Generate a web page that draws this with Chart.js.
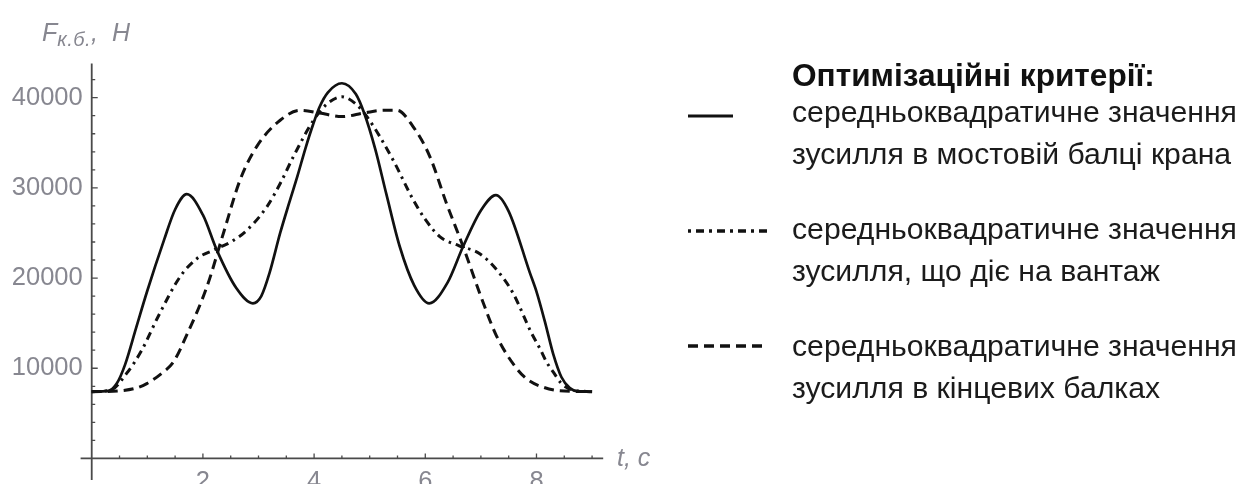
<!DOCTYPE html>
<html>
<head>
<meta charset="utf-8">
<script src="https://cdn.jsdelivr.net/npm/chart.js@4.4.1/dist/chart.umd.min.js"></script>
<style>
  html, body { margin: 0; padding: 0; background: #fff; overflow: hidden; }
  #wrap { position: relative; width: 1255px; height: 484px; }
  #plot { position: absolute; left: 0; top: 0; }
  .lg { position: absolute; left: 792px; font-family: "Liberation Sans", Arial, sans-serif;
        font-size: 30.2px; line-height: 1; color: #1b1b1b; white-space: nowrap; }
  .lg.head { font-weight: bold; font-size: 31.6px; color: #111; }
  .ax { position: absolute; font-family: "Liberation Sans", Arial, sans-serif; font-style: italic;
        font-size: 25px; line-height: 1; color: #878790; white-space: nowrap; }
  .ax sub { font-size: 20px; vertical-align: -5px; letter-spacing: 0.5px; }
  svg.sample { position: absolute; left: 686px; overflow: visible; }
</style>
</head>
<body>
<div id="wrap">
  <canvas id="plot" width="1255" height="484"></canvas>

  <div class="ax" style="left:42px; top:20px;">F<sub>к.б.</sub>, &nbsp;H</div>
  <div class="ax" style="left:617px; top:445px;">t, c</div>

  <div class="lg head" style="top:60px;">Оптимізаційні критерії:</div>

  <svg class="sample" style="top:113px;" width="50" height="6"><line x1="2" y1="3" x2="47" y2="3" stroke="#111" stroke-width="3"/></svg>
  <div class="lg" style="top:97px;">середньоквадратичне значення</div>
  <div class="lg" style="top:139px;">зусилля в мостовій балці крана</div>

  <svg class="sample" style="top:228px;" width="84" height="6"><line x1="2" y1="3" x2="82" y2="3" stroke="#111" stroke-width="3.5" stroke-dasharray="3 5 8 5"/></svg>
  <div class="lg" style="top:214px;">середньоквадратичне значення</div>
  <div class="lg" style="top:256px;">зусилля, що діє на вантаж</div>

  <svg class="sample" style="top:343px;" width="84" height="6"><line x1="2" y1="3" x2="82" y2="3" stroke="#111" stroke-width="3.5" stroke-dasharray="10 6"/></svg>
  <div class="lg" style="top:331px;">середньоквадратичне значення</div>
  <div class="lg" style="top:373px;">зусилля в кінцевих балках</div>
</div>

<script>
// Force in the bridge girder (solid line), time in seconds
const beamT = [0, 0.3, 0.45, 0.6, 0.8, 0.99, 1.3, 1.5, 1.71, 2.0, 2.25, 2.6, 2.9, 3.05, 3.2, 3.39, 3.55, 3.7, 3.85, 3.98, 4.1, 4.25, 4.5,
               4.75, 4.9, 5.1, 5.3, 5.54, 5.8, 6.07, 6.4, 6.68, 7.0, 7.27, 7.5, 7.88, 8.0, 8.15, 8.3, 8.45, 8.6, 8.75, 9.0];
const beamF = [7400, 7500, 8300, 10400, 14500, 18400, 24200, 27600, 29300, 27000, 23100, 18900, 17200, 18000, 20600, 25000, 28300, 31300, 34500, 37000, 39000, 40600, 41600,
               40400, 38300, 34300, 29300, 23500, 19200, 17200, 19500, 23500, 27500, 29200, 27400, 20600, 18500, 15200, 11600, 9000, 7800, 7450, 7400];

// Force acting on the load (dash-dot line)
const loadT = [0, 0.35, 0.63, 0.9, 1.2, 1.59, 1.9, 2.19, 2.5, 2.79, 3.15, 3.4, 3.63, 3.99, 4.25, 4.5,
               4.75, 4.95, 5.42, 5.78, 6.0, 6.26, 6.6, 6.98, 7.3, 7.58, 7.91, 8.06, 8.18, 8.3, 8.45, 8.65, 9.0];
const loadF = [7400, 7600, 9450, 12000, 15800, 20150, 22200, 23100, 24000, 25300, 27900, 30600, 33500, 37500, 39400, 40100,
               39300, 37900, 33100, 28700, 26500, 24600, 23600, 22700, 20800, 18300, 13900, 12200, 10700, 9600, 8300, 7600, 7400];

// Force in the end carriages (dashed line)
const endT = [0, 0.5, 0.8, 0.99, 1.26, 1.47, 1.71, 2.07, 2.37, 2.67, 2.97, 3.39, 3.75, 4.1, 4.5,
              4.9, 5.25, 5.49, 5.78, 6.08, 6.38, 6.68, 6.98, 7.28, 7.64, 7.85, 8.12, 8.42, 9.0];
const endF = [7400, 7500, 7800, 8300, 9450, 10700, 13700, 19000, 25000, 30900, 34600, 37500, 38600, 38300, 37900,
              38300, 38600, 38600, 36800, 33500, 28300, 23500, 18300, 13600, 10000, 8700, 7900, 7500, 7400];

const xTickLabels = [2, 4, 6, 8];
const yTickLabels = [10000, 20000, 30000, 40000];

const ink = '#111111';
const axisInk = '#4a4a4a';
const tickText = '#878790';

const pts = (ts, fs) => ts.map((t, i) => ({ x: t, y: fs[i] }));

// Axes cross at (0, 0) with inward ticks, so they are drawn by hand
// from the chart's own scales instead of the stock scale renderer.
const crossAxes = {
  id: 'crossAxes',
  beforeDatasetsDraw(chart) {
    const { ctx, scales: { x, y } } = chart;
    const x0 = x.getPixelForValue(0);
    const y0 = y.getPixelForValue(0);
    ctx.save();
    ctx.strokeStyle = axisInk;
    ctx.lineWidth = 1.8;
    ctx.beginPath();
    ctx.moveTo(x.getPixelForValue(x.min), y0);
    ctx.lineTo(x.getPixelForValue(x.max), y0);
    ctx.moveTo(x0, y.getPixelForValue(y.max));
    ctx.lineTo(x0, y.getPixelForValue(y.min));
    ctx.stroke();

    ctx.lineWidth = 1.3;
    ctx.beginPath();
    for (let k = 1; k <= 18; k++) {
      const px = x.getPixelForValue(k * 0.5);
      const len = k % 4 === 0 ? 5 : 3;
      ctx.moveTo(px, y0);
      ctx.lineTo(px, y0 - len);
    }
    for (let k = 1; k <= 21; k++) {
      const py = y.getPixelForValue(k * 2000);
      const len = k % 5 === 0 ? 6 : 3.5;
      ctx.moveTo(x0, py);
      ctx.lineTo(x0 + len, py);
    }
    ctx.stroke();

    ctx.fillStyle = tickText;
    ctx.font = '25.5px "Liberation Sans", Arial, sans-serif';
    ctx.textAlign = 'right';
    ctx.textBaseline = 'middle';
    yTickLabels.forEach((v) => ctx.fillText(String(v), x0 - 9, y.getPixelForValue(v)));
    ctx.textAlign = 'center';
    ctx.textBaseline = 'top';
    xTickLabels.forEach((v) => ctx.fillText(String(v), x.getPixelForValue(v), y0 + 11));
    ctx.restore();
  },
};

new Chart(document.getElementById('plot'), {
  type: 'line',
  data: {
    datasets: [
      { data: pts(beamT, beamF), borderColor: ink, borderWidth: 2.7 },
      { data: pts(loadT, loadF), borderColor: ink, borderWidth: 3, borderDash: [8, 5, 2.5, 5] },
      { data: pts(endT, endF), borderColor: ink, borderWidth: 3, borderDash: [10, 6] },
    ],
  },
  options: {
    responsive: false,
    animation: false,
    events: [],
    layout: { padding: { left: 80.6, right: 651.8, top: 63.4, bottom: 3.9 } },
    elements: {
      point: { radius: 0 },
      line: { cubicInterpolationMode: 'monotone', fill: false },
    },
    plugins: { legend: { display: false }, tooltip: { enabled: false } },
    scales: {
      x: { type: 'linear', min: -0.2, max: 9.2, display: false },
      y: { type: 'linear', min: -2400, max: 43800, display: false },
    },
  },
  plugins: [crossAxes],
});
</script>
</body>
</html>
